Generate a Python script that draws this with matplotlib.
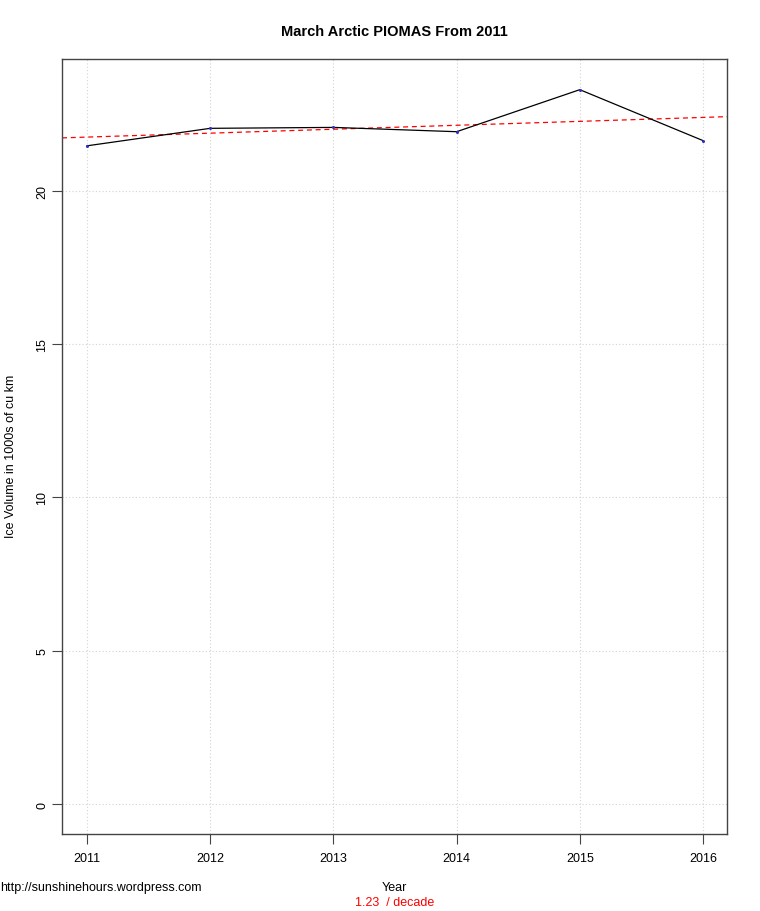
import numpy as np
import matplotlib.pyplot as plt

plt.rcParams['font.family'] = ['Liberation Sans', 'DejaVu Sans']

years = [2011, 2012, 2013, 2014, 2015, 2016]
volume = [21.46, 22.03, 22.06, 21.92, 23.29, 21.63]
yticks = [0, 5, 10, 15, 20]
trend_label = "1.23  / decade"

fig = plt.figure(figsize=(7.6, 9.12), dpi=100)
ax = fig.add_axes([0.0816, 0.0844, 0.875, 0.8498])

# grid
for yr in years:
    ax.axvline(yr, color='#d3d3d3', lw=0.8, ls=(0, (1, 2)), zorder=0)
for yt in yticks:
    ax.axhline(yt, color='#d3d3d3', lw=0.8, ls=(0, (1, 2)), zorder=0)

ax.plot(years, volume, color='black', lw=0.9, zorder=3)
ax.plot(years, volume, 'o', color='#3030c0', ms=1.2, zorder=4)

# linear trend
coef = np.polyfit(years, volume, 1)
xs = np.array([2010.797, 2016.195])
ax.plot(xs, np.polyval(coef, xs), color='red', lw=0.9, ls=(0, (4, 3)), zorder=2)

ax.set_xlim(2010.797, 2016.195)
ax.set_ylim(-0.978, 24.29)
ax.set_xticks(years)
ax.set_xticklabels([str(y) for y in years])
ax.set_yticks(yticks)
ax.set_yticklabels([str(y) for y in yticks], rotation=90, va='center')
ax.tick_params(direction='out', length=7, width=0.8, color='#444444', labelsize=9)
ax.tick_params(axis='x', pad=6)
ax.tick_params(axis='y', pad=3)
for s in ax.spines.values():
    s.set_color('#444444')
    s.set_linewidth(1.0)

fig.text(0.014, 0.5, 'Ice Volume in 1000s of cu km', rotation=90, ha='center', va='center',
         fontsize=9)
fig.text(0.519, 0.965, 'March Arctic PIOMAS From 2011', ha='center', va='center',
         fontsize=10.5, fontweight='bold')
fig.text(0.519, 0.0263, 'Year', ha='center', va='center', fontsize=9)
fig.text(0.519, 0.0099, trend_label, ha='center', va='center', fontsize=9, color='red')
fig.text(0.0, 0.0263, 'http://sunshinehours.wordpress.com', ha='left', va='center', fontsize=9)

fig.savefig('out.png', dpi=100)
